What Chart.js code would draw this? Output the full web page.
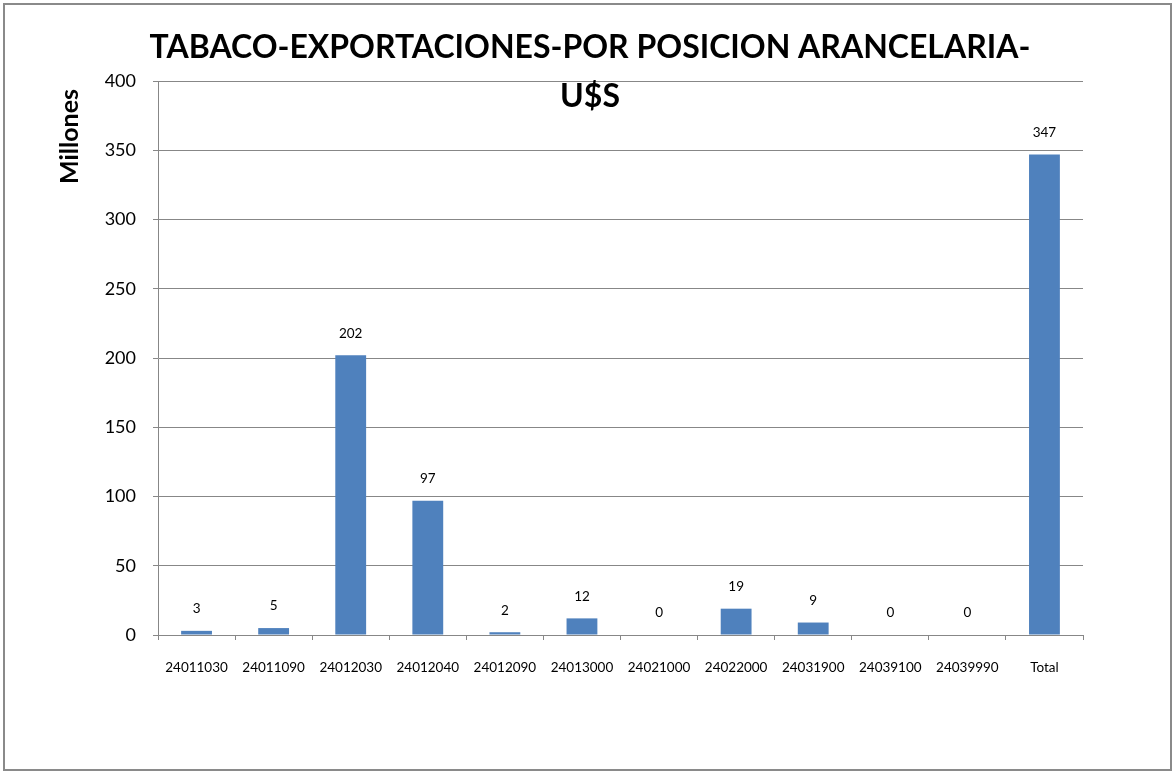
<!DOCTYPE html>
<html>
<head>
<meta charset="utf-8">
<script src="https://cdn.jsdelivr.net/npm/chart.js@4/dist/chart.umd.min.js"></script>
<style>
  html, body { margin: 0; padding: 0; background: #fff; }
  #box { position: relative; width: 1176px; height: 776px; }
</style>
</head>
<body>
<div id="box"><canvas id="chart" width="1176" height="776"></canvas></div>
<script>
// datos (millones de U$S)
const posiciones = ['24011030', '24011090', '24012030', '24012040', '24012090', '24013000',
    '24021000', '24022000', '24031900', '24039100', '24039990', 'Total'];
const valores = [3, 5, 202, 97, 2, 12, 0, 19, 9, 0, 0, 347];
const tituloLineas = ['TABACO-EXPORTACIONES-POR POSICION ARANCELARIA-', 'U$S'];
const tituloEje = 'Millones';

const FONT = 'Lato, "Open Sans", sans-serif';
const GRIS = '#878787';

// borde exterior y fondo
const fondo = {
    id: 'fondo',
    beforeDraw(chart) {
        const ctx = chart.ctx;
        ctx.save();
        ctx.fillStyle = '#fff';
        ctx.fillRect(0, 0, chart.width, chart.height);
        ctx.strokeStyle = '#8a8a8a';
        ctx.lineWidth = 2;
        ctx.strokeRect(4, 4, 1167, 766);
        ctx.restore();
    }
};

// titulo, titulo del eje y etiquetas de valores
const textos = {
    id: 'textos',
    afterDraw(chart) {
        const ctx = chart.ctx;
        const area = chart.chartArea;
        ctx.save();
        ctx.fillStyle = '#000';
        ctx.textAlign = 'center';
        ctx.textBaseline = 'middle';
        ctx.font = 'bold 32px ' + FONT;
        ctx.fillText(tituloLineas[0], 590, area.top - 33);
        ctx.fillText(tituloLineas[1], 590, area.top + 16);

        // titulo del eje y
        ctx.save();
        ctx.translate(70, area.top + 8);
        ctx.rotate(-Math.PI / 2);
        ctx.textAlign = 'right';
        ctx.font = 'bold 25px ' + FONT;
        ctx.fillText(tituloEje, 0, 0);
        ctx.restore();

        // valores sobre las barras
        ctx.font = '13.5px ' + FONT;
        const meta = chart.getDatasetMeta(0);
        meta.data.forEach((bar, i) => {
            ctx.fillText(String(valores[i]), bar.x, bar.y - 22);
        });
        ctx.restore();
    }
};

new Chart(document.getElementById('chart'), {
    type: 'bar',
    data: {
        labels: posiciones,
        datasets: [{
            data: valores,
            backgroundColor: '#4F81BD',
            borderWidth: 0,
            barPercentage: 0.4,
            categoryPercentage: 1
        }]
    },
    options: {
        responsive: false,
        animation: false,
        layout: { padding: { left: 0, top: 81, right: 93, bottom: 0 } },
        plugins: {
            legend: { display: false },
            tooltip: { enabled: false }
        },
        scales: {
            x: {
                afterFit(s) { s.height = 141; },
                grid: { drawOnChartArea: false, color: GRIS, tickLength: 5, offset: true },
                border: { color: GRIS, width: 1 },
                ticks: { color: '#000', font: { family: FONT, size: 13.5 }, padding: 20, maxRotation: 0, autoSkip: false }
            },
            y: {
                min: 0,
                max: 400,
                afterFit(s) { s.width = 158; },
                grid: { color: GRIS, tickLength: 5 },
                border: { color: GRIS, width: 1 },
                ticks: { stepSize: 50, color: '#000', font: { family: FONT, size: 18 }, padding: 17 }
            }
        }
    },
    plugins: [fondo, textos]
});
</script>
</body>
</html>
